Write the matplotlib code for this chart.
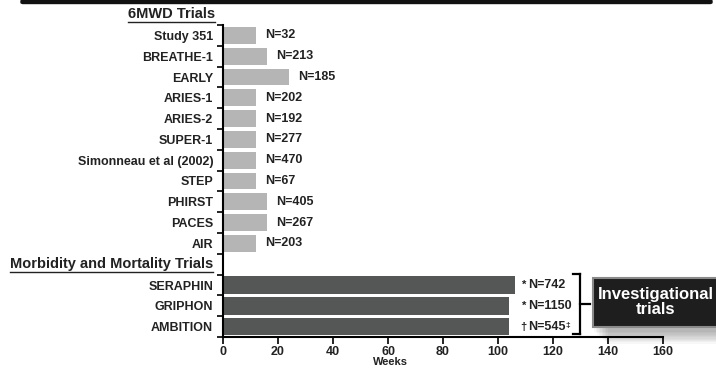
import numpy as np
import matplotlib.pyplot as plt
from matplotlib.patches import Rectangle, FancyBboxPatch
from matplotlib.lines import Line2D

plt.rcParams['font.family'] = ['Liberation Sans', 'DejaVu Sans']
plt.rcParams['font.weight'] = 'bold'

# 6MWD trials
walk_trials = ['Study 351', 'BREATHE-1', 'EARLY', 'ARIES-1', 'ARIES-2', 'SUPER-1',
               'Simonneau et al (2002)', 'STEP', 'PHIRST', 'PACES', 'AIR']
walk_weeks = [12, 16, 24, 12, 12, 12, 12, 12, 16, 16, 12]
walk_n = [32, 213, 185, 202, 192, 277, 470, 67, 405, 267, 203]

# morbidity / mortality trials
mm_trials = ['SERAPHIN', 'GRIPHON', 'AMBITION']
mm_weeks = [106, 104, 104]
mm_n = [742, 1150, 545]
mm_mark = ['*', '*', '\u2020']
mm_after = ['', '', '\u2021']

W, H = 716, 369
fig = plt.figure(figsize=(W / 100, H / 100), dpi=100)
ax = fig.add_axes([223 / W, 1 - 337 / H, 440 / W, 312 / H])

n_rows = len(walk_trials) + 1 + len(mm_trials)
walk_y = np.arange(len(walk_trials))
mm_y = np.arange(len(mm_trials)) + len(walk_trials) + 1

ax.barh(walk_y, walk_weeks, height=0.8, color='#b5b5b5')
ax.barh(mm_y, mm_weeks, height=0.85, color='#555756')

for y, w, n in zip(walk_y, walk_weeks, walk_n):
    ax.annotate(f'N={n}', (w, y), xytext=(6.5, 0), textcoords='offset points',
                va='center', ha='left', fontsize=9, color='#222222')
for y, w, n, m, a in zip(mm_y, mm_weeks, mm_n, mm_mark, mm_after):
    ax.text(110.5, y, m, ha='right', va='center', fontsize=8, color='#222222')
    t = ax.text(110.8, y, f'N={n}', ha='left', va='center', fontsize=9, color='#222222')
    if a:
        ax.annotate(a, (1, 0.55), xycoords=t, xytext=(0.5, 0), textcoords='offset points',
                    ha='left', va='center', fontsize=6, color='#222222')

ax.set_ylim(n_rows - 0.5, -0.5)
ax.set_xlim(0, 160)
ax.set_yticks(list(walk_y) + list(mm_y))
ax.set_yticklabels(walk_trials + mm_trials, fontsize=9, color='#222222')
ax.set_yticks(np.arange(n_rows + 1) - 0.5, minor=True)
ax.tick_params(axis='y', which='major', length=0, pad=7)
ax.tick_params(axis='y', which='minor', length=4, width=1.2, direction='out')
ax.set_xticks(np.arange(0, 161, 20))
ax.tick_params(axis='x', length=5, width=1.2, labelsize=9, pad=1.5, labelcolor='#222222')
for s in ['top', 'right']:
    ax.spines[s].set_visible(False)
for s in ['left', 'bottom']:
    ax.spines[s].set_linewidth(1.5)
fig.text(390 / W, 1 - 362 / H, 'Weeks', fontsize=8, ha='center', va='center', color='#222222')


def header(text, x, y):
    t = fig.text(x / W, 1 - y / H, text, ha='right', va='center', fontsize=10.5, color='#222222')
    fig.canvas.draw()
    bb = t.get_window_extent()
    uy = bb.y0 - 1
    fig.add_artist(Line2D([bb.x0 / W, bb.x1 / W], [uy / H, uy / H], color='#222222', lw=1))


header('6MWD Trials', 215, 14)
header('Morbidity and Mortality Trials', 213, 264)

# top bar
fig.add_artist(FancyBboxPatch((21 / W, 1 - 3.5 / H), 691 / W, 3.5 / H,
                              boxstyle='round,pad=0,rounding_size=0.003',
                              transform=fig.transFigure, color='#111111', clip_on=False))

# brace
bx = 580
for seg in [((573, bx), (274, 274)), ((bx, bx), (274, 334)), ((573, bx), (334, 334)),
            ((bx, 590), (304, 304))]:
    xs, ys = seg
    fig.add_artist(Line2D([v / W for v in xs], [1 - v / H for v in ys], color='black', lw=1.6))

# investigational trials box with shadow
for i in range(10):
    fig.add_artist(Rectangle(((594 + i * 1.5) / W, 1 - (332 + i * 1.3) / H), 128 / W, 52 / H,
                             transform=fig.transFigure, color='black', alpha=0.03, lw=0))
fig.add_artist(Rectangle((593 / W, 1 - 327 / H), 125 / W, 49 / H, transform=fig.transFigure,
                         facecolor='#1e1e1e', edgecolor='#8a8a8a', lw=1.5))
fig.text(656 / W, 1 - 302 / H, 'Investigational\ntrials', ha='center', va='center',
         fontsize=12, color='white', linespacing=1.0)

fig.savefig('out.png', dpi=100)
